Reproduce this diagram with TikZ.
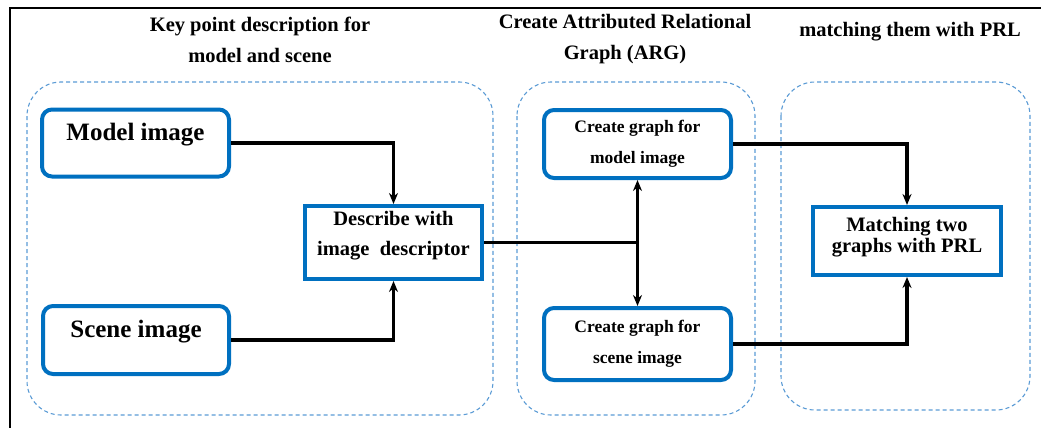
\documentclass[tikz,border=0pt]{standalone}
\usepackage{fontspec}
\setmainfont{Liberation Serif}
\usepackage{tikz}
\usetikzlibrary{arrows.meta}
\definecolor{boxblue}{HTML}{0070C0}
\definecolor{dashblue}{HTML}{5B9BD5}

\begin{document}
\begin{tikzpicture}[x=1pt, y=-1pt, >={Stealth[length=11pt,width=9pt]},
    font=\bfseries,
    imgbox/.style={draw=boxblue, line width=4pt, rounded corners=10pt, fill=white,
      inner sep=0pt, font=\bfseries\fontsize{25}{30}\selectfont},
    argbox/.style={draw=boxblue, line width=4pt, rounded corners=10pt, fill=white,
      inner sep=0pt, align=center, font=\bfseries\fontsize{17.5}{31}\selectfont},
    stepbox/.style={draw=boxblue, line width=4pt, fill=white, inner sep=0pt,
      align=center, font=\bfseries\fontsize{20.5}{32}\selectfont},
    group/.style={draw=dashblue, line width=1.1pt, dash pattern=on 4pt off 3pt,
      rounded corners=34pt},
    title/.style={align=center, font=\bfseries\fontsize{20.5}{31}\selectfont},
    arr/.style={->, line width=3.2pt}]
  \useasboundingbox (0,0) rectangle (1041,428);
  % ---- frame ----
  \draw[line width=2.5pt] (10,430) -- (10,8) -- (1043,8);
  % ---- groups ----
  \draw[group] (27,82) rectangle (493,415);
  \draw[group] (517,82) rectangle (755,415);
  \draw[group] (781,82) rectangle (1030,410);
  % ---- titles ----
  \node[title] (t1) at (260,40) {Key point description for\\model and scene};
  \node[title] (t2) at (625,39) {Create Attributed Relational\\Graph (ARG)};
  \node[title] (t3) at (910,32) {matching them with PRL};
  % ---- boxes ----
  \node[imgbox, minimum width=187pt, minimum height=67pt] (model) at (135.5,143)
    {\raisebox{22pt}{Model image}};
  \node[imgbox, minimum width=186pt, minimum height=68pt] (scene) at (136,340)
    {\raisebox{22pt}{Scene image}};
  \node[stepbox, minimum width=177pt, minimum height=73pt] (desc) at (393.5,242.5)
    {Describe with\\[-2pt]image\ \ descriptor\\[-14pt]};
  \node[argbox, minimum width=187pt, minimum height=68pt] (cgm) at (637.5,144)
    {Create graph for\\model image};
  \node[argbox, minimum width=187pt, minimum height=72pt] (cgs) at (637.5,344)
    {Create graph for\\scene image};
  \node[stepbox, minimum width=188pt, minimum height=68pt,
    font=\bfseries\fontsize{20.5}{21}\selectfont] (match) at (907,241)
    {Matching two\\graphs with PRL\\[-8pt]};
  % ---- connectors ----
  \draw[arr] (model.east) -| (desc.north);
  \draw[arr] (scene.east) -| (desc.south);
  \coordinate (fork) at (desc.east -| cgm.south);
  \draw[line width=3.2pt] (desc.east) -- (fork);
  \draw[arr] (fork) -- (cgm.south);
  \draw[arr] (fork) -- (cgs.north);
  \draw[arr] (cgm.east) -| (match.north);
  \draw[arr] (cgs.east) -| (match.south);
\end{tikzpicture}
\end{document}
